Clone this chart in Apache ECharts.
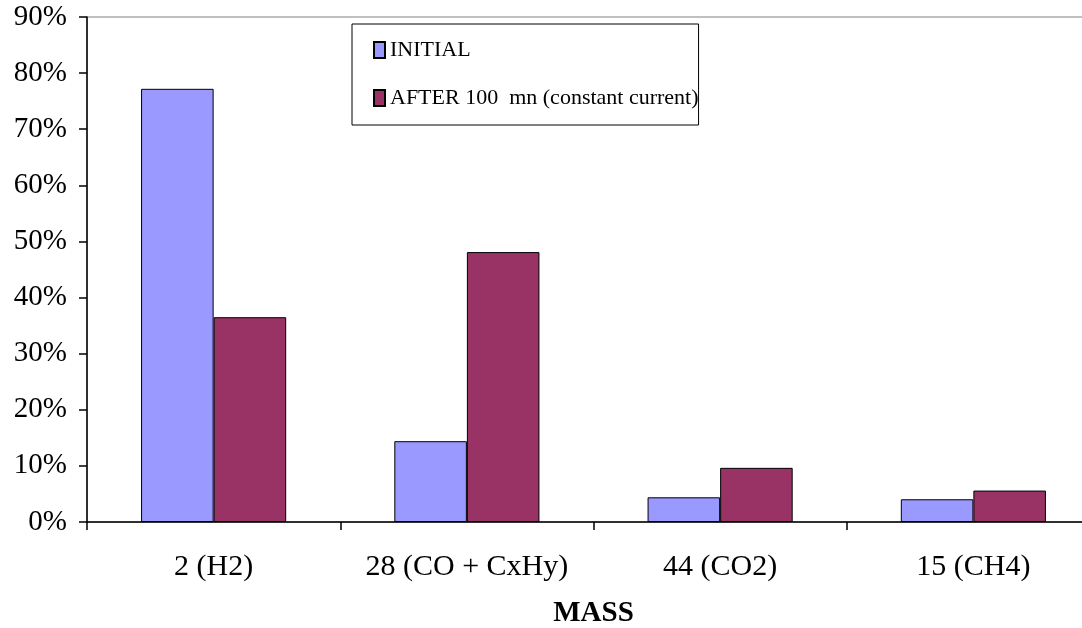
<!DOCTYPE html>
<html>
<head>
<meta charset="utf-8">
<script src="https://cdn.jsdelivr.net/npm/echarts@6/dist/echarts.min.js"></script>
<style>
  html, body { margin: 0; padding: 0; background: #fff; }
  #chart { width: 1082px; height: 628px; }
</style>
</head>
<body>
<div id="chart"></div>
<script>
// Gas composition by mass peak (percent of total)
const categories = ['2 (H2)', '28 (CO + CxHy)', '44 (CO2)', '15 (CH4)'];
const initialValues = [77.2, 14.4, 4.4, 4.05];
const after100Values = [36.5, 48.1, 9.65, 5.6];
const seriesNames = ['INITIAL', 'AFTER 100  mn (constant current)'];
const yTicks = { min: 0, max: 90, interval: 10 };

const serif = "'Liberation Serif', 'Times New Roman', serif";

const chart = echarts.init(document.getElementById('chart'), null, { renderer: 'canvas' });

chart.setOption({
  animation: false,
  backgroundColor: '#ffffff',
  grid: {
    left: 87,
    top: 17,
    bottom: 106,
    width: 1013,
    containLabel: false,
    outerBoundsMode: 'none',
    show: true,
    borderColor: '#808080',
    borderWidth: 1,
    backgroundColor: 'transparent'
  },
  legend: {
    orient: 'vertical',
    left: 352,
    top: 24,
    padding: [11, 0, 12, 21],
    itemGap: 18,
    itemWidth: 11,
    itemHeight: 16,
    icon: 'rect',
    borderColor: '#000',
    borderWidth: 1,
    backgroundColor: '#fff',
    textStyle: {
      fontFamily: serif,
      fontSize: 22,
      color: '#000',
      lineHeight: 30
    },
    data: seriesNames
  },
  xAxis: {
    type: 'category',
    data: categories,
    boundaryGap: true,
    axisLine: { lineStyle: { color: '#000', width: 1.5 } },
    axisTick: { show: true, interval: 0, length: 8, lineStyle: { color: '#000', width: 1.5 } },
    axisLabel: {
      interval: 0,
      hideOverlap: false,
      fontFamily: serif,
      fontSize: 30,
      color: '#000',
      margin: 30
    },
    name: 'MASS',
    nameLocation: 'middle',
    nameGap: 77,
    nameTextStyle: {
      fontFamily: serif,
      fontSize: 29,
      fontWeight: 'bold',
      color: '#000'
    }
  },
  yAxis: {
    type: 'value',
    min: yTicks.min,
    max: yTicks.max,
    interval: yTicks.interval,
    axisLine: { show: true, lineStyle: { color: '#000', width: 1.5 } },
    axisTick: { show: true, length: 8, lineStyle: { color: '#000', width: 1.5 } },
    splitLine: { show: false },
    axisLabel: {
      fontFamily: serif,
      fontSize: 29,
      color: '#000',
      margin: 20,
      formatter: '{value}%'
    }
  },
  series: [
    {
      name: seriesNames[0],
      type: 'bar',
      data: initialValues,
      barGap: '0%',
      barCategoryGap: '42.7%',
      itemStyle: { color: '#9999FF', borderColor: '#000', borderWidth: 1 }
    },
    {
      name: seriesNames[1],
      type: 'bar',
      data: after100Values,
      barGap: '0%',
      barCategoryGap: '42.7%',
      itemStyle: { color: '#993366', borderColor: '#000', borderWidth: 1 }
    }
  ]
});
</script>
</body>
</html>
